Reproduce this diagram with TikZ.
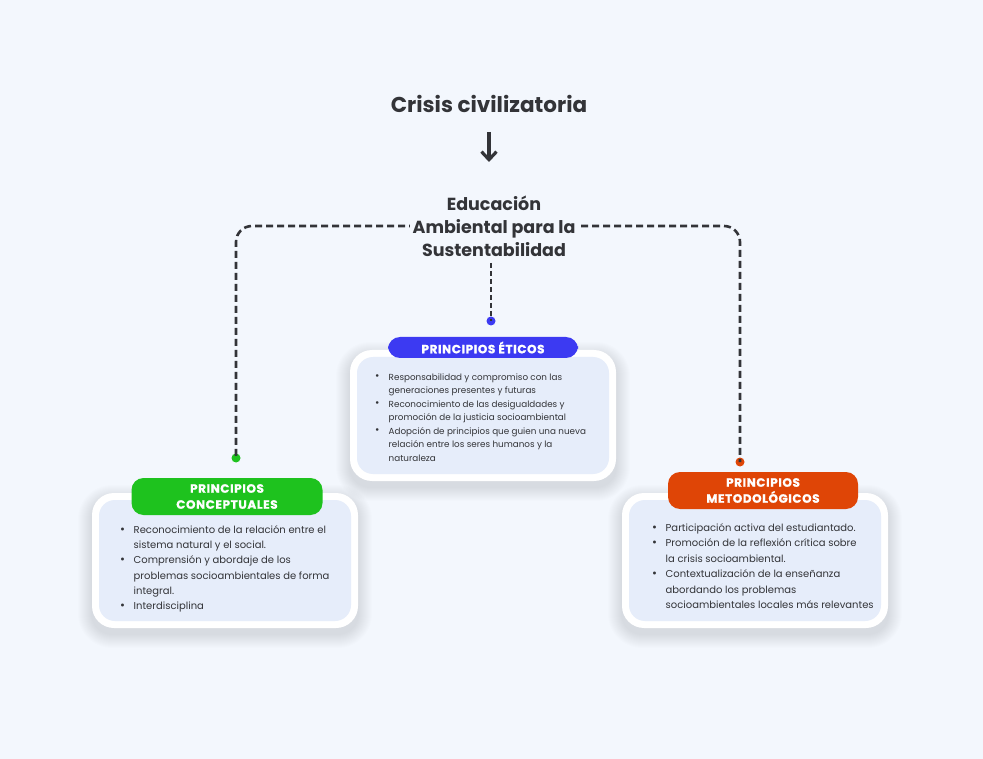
\documentclass[tikz,border=0pt]{standalone}
\usepackage{fontspec}
\setmainfont{Poppins}
\usetikzlibrary{calc,arrows.meta}
\definecolor{bg}{HTML}{F3F7FD}
\definecolor{ink}{HTML}{333438}
\definecolor{inner}{HTML}{E6EDFA}
\definecolor{cblue}{HTML}{3C3AF2}
\definecolor{cgreen}{HTML}{1EC21E}
\definecolor{corange}{HTML}{DF4506}
\tikzset{
  x=1pt,y=-1pt,
  title/.style={font=\bfseries\fontsize{21.5}{24}\selectfont, text=ink, inner sep=0pt},
  hub/.style={font=\bfseries\fontsize{17.5}{23}\selectfont, text=ink, align=center, inner sep=3pt, fill=bg},
  dashline/.style={draw=ink, line width=2.6pt, dash pattern=on 7pt off 4pt},
  outercard/.style={fill=white, rounded corners=22pt},
  innercard/.style={fill=inner, rounded corners=16pt},
  pill/.style={rounded corners=12pt, text=white, align=center, font=\bfseries\fontsize{12}{16}\selectfont\addfontfeature{LetterSpace=5,FakeBold=1.2}},
  dot/.style={circle, inner sep=0pt, minimum size=9pt},
  items/.style={anchor=north west, inner sep=0pt, text=ink, align=left},
  shadowlayer/.style={fill=black!70!blue, opacity=0.009},
}
\newcommand{\itm}[1]{\makebox[13.5pt][l]{\raisebox{0.1ex}{\scalebox{1.2}{\textbullet}}}#1}
\newcommand{\cnt}[1]{\hspace*{13.5pt}#1}
\newcommand{\cardshadow}[4]{%
  \foreach \i in {1,...,14}{%
    \pgfmathsetmacro{\rr}{20+\i}%
    \fill[shadowlayer, rounded corners=\rr pt] (#1-\i,#2-\i+6) rectangle (#3+\i,#4+\i+6);%
  }}
\begin{document}
\begin{tikzpicture}
\useasboundingbox (0,0) rectangle (983,759);
\fill[bg] (0,0) rectangle (983,759);

% title and arrow
\node[title] (crisis) at (489,104) {Crisis civilizatoria};
\coordinate (arrS) at (489,132);
\coordinate (arrE) at (489,162);
\draw[ink, line width=3.2pt, -{Straight Barb[length=8pt,width=15pt,line width=3.2pt]}] (arrS) -- (arrE);

% dashed connectors
\coordinate (lc) at (236,226);
\coordinate (rc) at (740,226);
\coordinate (cs) at (491,263);
\node[dot, fill=cgreen] (dg) at (236,458) {};
\node[dot, fill=corange] (do) at (740,462) {};
\node[dot, fill=cblue] (db) at (491,321) {};
\draw[dashline, rounded corners=16pt] (493,226) -- (lc) -- (dg.center);
\draw[dashline, rounded corners=16pt] (493,226) -- (rc) -- (do.center);
\draw[dashline, line width=2pt, dash pattern=on 5pt off 3pt] (cs) -- (db.center);

\node[hub] (hub) at (494,226) {Educación\\Ambiental para la\\Sustentabilidad};

% ethics card
\cardshadow{350}{350}{616}{481}
\fill[outercard] (350,350) rectangle (616,481);
\fill[innercard] (357,357) rectangle (609,474);
\node[pill, fill=cblue, minimum width=190pt, minimum height=21pt] (eth) at (483,347.5) {PRINCIPIOS ÉTICOS};
\node[items, font=\fontsize{8.8}{13.5}\selectfont] (ethi) at (375,373.5) {\itm{Responsabilidad y compromiso con las}\\
\cnt{generaciones presentes y futuras}\\
\itm{Reconocimiento de las desigualdades y}\\
\cnt{promoción de la justicia socioambiental}\\
\itm{Adopción de principios que guien una nueva}\\
\cnt{relación entre los seres humanos y la}\\
\cnt{naturaleza}};

% conceptual card
\cardshadow{92}{493}{358}{628}
\fill[outercard] (92,493) rectangle (358,628);
\fill[innercard] (99,500) rectangle (351,621);
\node[pill, fill=cgreen, minimum width=191pt, minimum height=37pt] (con) at (227,496.5) {PRINCIPIOS\\CONCEPTUALES};
\node[items, font=\fontsize{10}{15.2}\selectfont] (coni) at (120,525.5) {\itm{Reconocimiento de la relación entre el}\\
\cnt{sistema natural y el social.}\\
\itm{Comprensión y abordaje de los}\\
\cnt{problemas socioambientales de forma}\\
\cnt{integral.}\\
\itm{Interdisciplina}};

% methodological card
\cardshadow{622}{493}{888}{628}
\fill[outercard] (622,493) rectangle (888,628);
\fill[innercard] (629,500) rectangle (881,621);
\node[pill, fill=corange, minimum width=190pt, minimum height=37pt] (met) at (763,490.5) {PRINCIPIOS\\METODOLÓGICOS};
\node[items, font=\fontsize{10}{15.4}\selectfont] (meti) at (652,523.5) {\itm{Participación activa del estudiantado.}\\
\itm{Promoción de la reflexión crítica sobre}\\
\cnt{la crisis socioambiental.}\\
\itm{Contextualización de la enseñanza}\\
\cnt{abordando los problemas}\\
\cnt{socioambientales locales más relevantes}};
\end{tikzpicture}
\end{document}
